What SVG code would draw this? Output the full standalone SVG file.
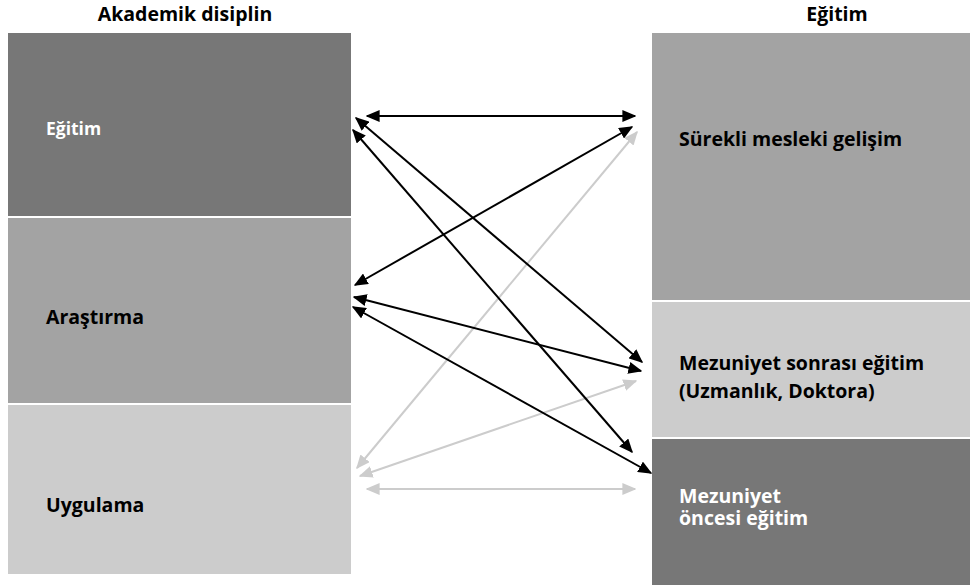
<svg xmlns="http://www.w3.org/2000/svg" width="970" height="587" viewBox="0 0 970 587">
<style>
text{font-family:"Open Sans","Noto Sans","DejaVu Sans",sans-serif;font-weight:bold;font-size:19.5px;fill:#000}
.w{fill:#fff}
.dark{fill:#777777}
.mid{fill:#a3a3a3}
.light{fill:#cccccc}
.blk{stroke:#000;stroke-width:2;fill:none;marker-start:url(#ab);marker-end:url(#ab)}
.gry{stroke:#cccccc;stroke-width:2;fill:none;marker-start:url(#ag);marker-end:url(#ag)}
</style>
<defs>
<marker id="ab" viewBox="0 0 7 6" refX="6.3" refY="3" markerWidth="7" markerHeight="6" orient="auto-start-reverse"><path d="M0,0 L7,3 L0,6 Z" fill="#000"/></marker>
<marker id="ag" viewBox="0 0 7 6" refX="6.3" refY="3" markerWidth="7" markerHeight="6" orient="auto-start-reverse"><path d="M0,0 L7,3 L0,6 Z" fill="#cccccc"/></marker>
</defs>
<rect width="970" height="587" fill="#fff"/>
<g id="header-left"><text x="185" y="21" text-anchor="middle">Akademik disiplin</text></g>
<g id="header-right"><text x="837" y="21" text-anchor="middle">Eğitim</text></g>
<g id="left-egitim"><rect class="dark" x="8" y="33" width="343" height="183"/><text class="w" x="46" y="135" style="font-size:17.5px">Eğitim</text></g>
<g id="left-arastirma"><rect class="mid" x="8" y="218" width="343" height="185"/><text x="46" y="324">Araştırma</text></g>
<g id="left-uygulama"><rect class="light" x="8" y="405" width="343" height="169"/><text x="46" y="512">Uygulama</text></g>
<g id="right-surekli"><rect class="mid" x="652" y="33" width="318" height="267"/><text x="679" y="146">Sürekli mesleki gelişim</text></g>
<g id="right-sonrasi"><rect class="light" x="652" y="302" width="318" height="135"/><text x="679" y="370">Mezuniyet sonrası eğitim</text><text x="679" y="398">(Uzmanlık, Doktora)</text></g>
<g id="right-oncesi"><rect class="dark" x="652" y="439" width="318" height="146"/><text class="w" x="679" y="503">Mezuniyet</text><text class="w" x="679" y="525">öncesi eğitim</text></g>
<g id="connectors">
<line class="gry" x1="637" y1="132" x2="357" y2="468"/>
<line class="gry" x1="636" y1="381" x2="360" y2="476"/>
<line class="gry" x1="367" y1="489" x2="635" y2="489"/>
<line class="blk" x1="367" y1="116" x2="635" y2="116"/>
<line class="blk" x1="356" y1="118" x2="642" y2="362"/>
<line class="blk" x1="353" y1="130" x2="632" y2="452"/>
<line class="blk" x1="632" y1="127" x2="355" y2="285"/>
<line class="blk" x1="354" y1="297" x2="641" y2="371"/>
<line class="blk" x1="353" y1="307" x2="651" y2="473"/>
</g>
</svg>
